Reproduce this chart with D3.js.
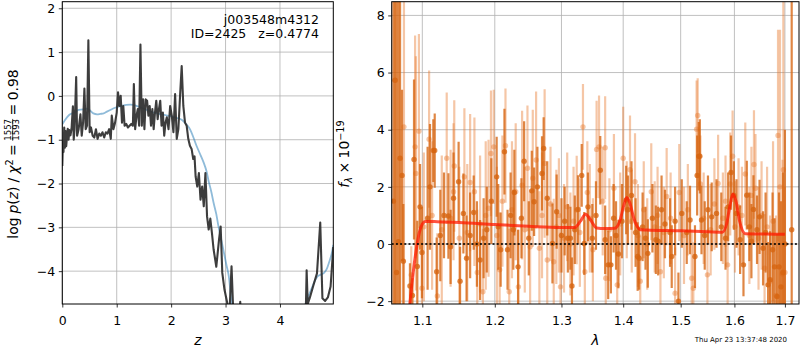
<!DOCTYPE html>
<html>
<head>
<meta charset="utf-8">
<script src="https://cdn.jsdelivr.net/npm/d3@7"></script>
<style>
body{margin:0;background:#fff;}
svg{display:block;font-family:"DejaVu Sans",sans-serif;}
</style>
</head>
<body>
<svg id="chart" width="800" height="350"></svg>
<script>
// ---- left panel: log p(z) and prior
const pzZ = [0.000,0.012,0.022,0.035,0.048,0.060,0.072,0.085,0.100,0.115,
    0.130,0.150,0.170,0.195,0.210,0.225,0.255,0.272,0.300,0.333,
    0.357,0.382,0.406,0.430,0.455,0.479,0.503,0.527,0.558,0.588,
    0.618,0.648,0.679,0.709,0.739,0.770,0.800,0.830,0.861,0.891,
    0.909,0.939,0.970,1.000,1.024,1.048,1.073,1.097,1.121,1.145,
    1.176,1.206,1.236,1.267,1.297,1.315,1.339,1.364,1.388,1.412,
    1.436,1.461,1.485,1.509,1.533,1.558,1.582,1.606,1.630,1.655,
    1.679,1.703,1.727,1.752,1.776,1.800,1.824,1.848,1.873,1.897,
    1.921,1.952,1.982,2.012,2.042,2.073,2.103,2.133,2.164,2.194,
    2.224,2.255,2.285,2.315,2.345,2.376,2.406,2.430,2.450,2.480,
    2.510,2.540,2.570,2.600,2.630,2.660,2.690,2.720,2.750,2.780,
    2.830,2.880,2.910,2.940,2.980,3.030,3.070,3.110,3.150,3.210,
    3.270,3.300,4.440,4.470,4.490,4.510,4.550,4.620,4.680,4.740,
    4.780,4.830,4.880,4.930,4.980];
const pzLog = [-1.60,-1.05,-1.28,-0.72,-1.18,-0.80,-1.15,-0.95,-0.75,-1.00,
    -0.78,-0.90,-0.75,-0.24,-1.00,-0.76,0.43,-0.91,-0.76,-0.42,
    -0.91,-0.61,0.17,-0.76,-0.68,1.27,-0.83,-0.72,-0.91,-0.95,
    -0.76,-0.98,-0.86,-0.91,-0.83,-0.95,-0.83,-0.86,-0.76,-0.98,
    -0.45,-0.76,-0.61,-0.38,0.08,-0.23,0.00,-0.61,-0.23,-0.68,
    -0.64,-0.72,-0.68,-0.64,-0.68,0.27,-0.76,-0.45,-0.30,-0.68,
    1.17,-0.68,-0.08,-0.76,-0.08,-0.11,-0.45,-0.23,-0.68,-0.30,
    -0.76,-0.38,-0.11,-0.53,-0.30,-0.11,-0.68,-0.38,-0.91,-0.61,
    -0.49,-0.76,-0.23,-0.45,-0.83,0.04,-0.98,-0.76,0.00,0.68,
    -0.23,-0.61,-0.68,-0.98,-1.14,-1.21,-1.44,-1.38,-1.84,-2.07,
    -1.76,-2.37,-2.07,-2.52,-1.76,-2.75,-3.05,-2.80,-3.13,-3.50,
    -3.90,-3.28,-2.98,-4.04,-4.42,-4.72,-5.00,-3.89,-5.20,-6.00,
    -4.70,-6.00,-6.00,-5.20,-3.98,-4.75,-4.60,-4.30,-4.05,-2.89,
    -4.62,-4.68,-4.60,-4.35,-3.45];
const priorZ = [0.00,0.05,0.13,0.22,0.30,0.38,0.45,0.50,0.57,0.64,
    0.70,0.76,0.82,0.90,0.97,1.10,1.25,1.35,1.43,1.55,
    1.65,1.74,1.85,1.99,2.10,2.20,2.28,2.35,2.41,2.47,
    2.54,2.60,2.65,2.69,2.74,2.78,2.83,2.87,2.92,2.97,
    3.02,3.06,3.11,3.15,4.44,4.47,4.53,4.60,4.65,4.69,
    4.75,4.81,4.86,4.90,4.95,4.98];
const priorLog = [-0.65,-0.55,-0.43,-0.38,-0.32,-0.31,-0.29,-0.32,-0.40,-0.42,
    -0.41,-0.40,-0.36,-0.31,-0.27,-0.22,-0.20,-0.22,-0.26,-0.32,
    -0.37,-0.40,-0.43,-0.46,-0.50,-0.55,-0.65,-0.77,-0.95,-1.15,
    -1.35,-1.53,-1.72,-1.95,-2.20,-2.44,-2.70,-2.98,-3.28,-3.58,
    -3.88,-4.12,-4.74,-5.20,-5.20,-4.75,-4.55,-4.34,-4.20,-4.12,
    -4.08,-4.04,-3.95,-3.81,-3.60,-3.40];
const zTicks = [0, 1, 2, 3, 4];
const pzTicks = [-4, -3, -2, -1, 0, 1, 2];

// ---- right panel: spectrum (two beams) and model
const darkWave = [1.0625,1.0646,1.0665,1.0688,1.0710,1.0735,1.0752,1.0838,1.0870,1.0891,
    1.0934,1.0970,1.0995,1.1070,1.1102,1.1146,1.1165,1.1191,1.1240,1.1290,
    1.1350,1.1380,1.1420,1.1490,1.1510,1.1556,1.1600,1.1650,1.1700,1.1745,
    1.1790,1.1840,1.1885,1.1950,1.2027,1.2050,1.2085,1.2140,1.2185,1.2230,
    1.2270,1.2285,1.2340,1.2390,1.2430,1.2500,1.2545,1.2580,1.2630,1.2700,
    1.2725,1.2780,1.2860,1.2925,1.3000,1.3050,1.3100,1.3140,1.3165,1.3210,
    1.3260,1.3320,1.3360,1.3420,1.3490,1.3550,1.3620,1.3700,1.3750,1.3795,
    1.3840,1.3880,1.3920,1.3980,1.4050,1.4080,1.4140,1.4210,1.4245,1.4270,
    1.4330,1.4380,1.4420,1.4500,1.4560,1.4600,1.4660,1.4720,1.4810,1.4840,
    1.4900,1.4960,1.5020,1.5110,1.5170,1.5260,1.5300,1.5330,1.5350,1.5380,
    1.5440,1.5500,1.5570,1.5660,1.5750,1.5830,1.5880,1.5935,1.5990,1.6040,
    1.6110,1.6175,1.6240,1.6290,1.6330,1.6370,1.6440,1.6490,1.6560,1.6610,
    1.6660,1.6700,1.6750,1.6790,1.6840,1.6880,1.6920,1.6960,1.7000,1.7139];
const darkFlux = [1.5,5.73,-1.0,0.08,3.0,2.4,-0.6,-1.47,-1.8,2.96,
    -0.79,1.3,-0.3,0.9,2.0,3.27,3.27,-0.97,0.3,1.0,
    0.98,-0.1,1.6,2.18,-1.3,1.07,-0.5,0.3,1.1,0.0,
    -0.56,0.2,0.5,1.5,2.35,0.6,-0.2,3.23,-0.2,1.0,
    0.5,1.8,-0.8,0.9,2.9,0.2,1.86,1.48,2.0,2.47,
    3.34,1.6,0.02,1.13,0.3,0.8,0.2,0.2,-1.47,0.5,
    1.21,2.4,0.02,1.3,0.2,1.0,2.58,0.15,-0.73,-0.73,
    0.9,0.3,-0.35,0.8,1.54,1.2,1.7,0.4,-0.44,-0.5,
    0.6,0.2,-0.33,0.9,0.15,0.1,1.2,0.7,0.4,-0.44,
    0.8,-2.0,1.07,0.4,0.84,-0.44,2.4,3.07,3.07,0.84,
    0.3,1.2,0.95,1.07,0.6,0.2,1.3,2.5,1.7,1.07,
    0.15,-0.73,1.71,0.6,0.1,1.21,0.5,0.95,-0.15,0.4,
    -1.43,-1.25,-0.2,-0.8,-1.84,-0.8,-1.5,-1.0,0.0,0.5];
const darkErr = [14,12,12,12,11,3.0,2.0,0.8,0.6,2.8,
    1.6,1.5,1.6,2.5,2.2,1.1,1.3,1.2,1.6,1.5,
    1.5,1.3,1.6,1.4,1.2,1.4,1.5,1.5,1.3,1.5,
    1.4,1.4,1.5,1.5,1.4,1.5,1.3,1.5,1.4,1.5,
    1.4,1.5,1.3,1.4,1.4,1.3,1.4,1.2,1.4,1.3,
    1.1,1.3,1.4,1.3,1.3,1.2,1.2,1.1,1.0,1.2,
    1.2,1.1,1.1,1.2,1.2,1.2,1.2,1.2,1.2,1.0,
    1.2,1.2,1.2,1.3,1.2,1.2,1.2,1.2,1.2,1.1,
    1.2,1.1,1.2,1.2,1.2,1.2,1.2,1.2,1.2,1.1,
    1.2,1.0,1.2,1.1,1.2,1.1,1.4,1.2,1.3,1.2,
    1.2,1.2,1.2,1.2,1.2,1.1,1.2,1.3,1.2,1.2,
    1.2,1.1,1.2,1.2,1.3,1.2,1.2,1.3,1.3,1.4,
    1.5,1.7,2.0,1.7,2.2,2.6,3.0,3.5,4.0,15];
const lightWave = [1.0760,1.0855,1.0905,1.0915,1.0955,1.0995,1.1020,1.1090,1.1130,1.1200,
    1.1260,1.1327,1.1380,1.1420,1.1430,1.1500,1.1570,1.1610,1.1650,1.1710,
    1.1750,1.1790,1.1830,1.1870,1.1910,1.1945,1.1985,1.2030,1.2070,1.2110,
    1.2155,1.2210,1.2250,1.2305,1.2345,1.2400,1.2440,1.2480,1.2520,1.2560,
    1.2610,1.2660,1.2700,1.2740,1.2780,1.2830,1.2880,1.2920,1.2960,1.2985,
    1.3040,1.3090,1.3140,1.3190,1.3240,1.3290,1.3340,1.3370,1.3410,1.3450,
    1.3500,1.3560,1.3600,1.3660,1.3700,1.3710,1.3770,1.3845,1.3900,1.3950,
    1.4000,1.4060,1.4115,1.4145,1.4200,1.4250,1.4290,1.4350,1.4410,1.4480,
    1.4540,1.4590,1.4640,1.4700,1.4750,1.4820,1.4900,1.4975,1.5060,1.5130,
    1.5200,1.5230,1.5290,1.5310,1.5360,1.5420,1.5490,1.5550,1.5620,1.5690,
    1.5780,1.5830,1.5870,1.5920,1.5965,1.6010,1.6080,1.6145,1.6210,1.6290,
    1.6330,1.6380,1.6410,1.6470,1.6530,1.6590,1.6640,1.6700,1.6760,1.6820,
    1.6860,1.6900,1.6950,1.6968,1.7000];
const lightFlux = [4.1,-1.08,3.4,2.47,3.95,-1.55,0.6,3.67,1.0,-1.82,
    0.5,3.0,0.9,1.83,2.73,0.2,2.35,0.4,2.15,1.83,
    -1.0,0.7,-1.67,1.0,1.25,3.17,3.4,0.3,-0.9,1.5,
    3.44,-1.67,1.2,1.83,-1.5,2.06,0.5,2.65,-0.1,2.3,
    2.94,-0.15,1.0,2.82,-0.56,1.4,-0.62,0.6,1.0,-1.5,
    0.2,1.3,0.0,0.8,1.19,0.4,4.1,-0.97,1.8,0.9,
    -0.2,3.31,3.4,1.5,3.37,-1.2,0.5,1.95,-1.43,0.7,
    3.0,1.2,2.6,0.8,2.18,0.3,-1.3,1.2,0.0,1.83,
    0.6,1.0,-0.97,0.4,1.66,0.9,-1.72,1.8,0.3,1.2,
    -1.2,-1.55,4.02,4.5,2.1,0.9,-1.08,0.5,1.4,2.12,
    0.9,1.5,-0.73,2.1,3.07,0.6,1.3,1.0,2.45,0.3,
    1.7,2.78,1.95,0.2,1.0,-0.85,0.6,-1.3,0.8,-1.8,
    3.8,2.0,-1.05,2.6,-1.0];
const lightErr = [10,1.0,3.9,4.1,3.4,1.6,2.6,2.4,2.6,2.2,
    2.6,2.3,2.4,2.4,2.3,2.5,2.4,2.4,2.4,2.6,
    2.2,2.4,2.2,2.6,2.4,2.2,2.0,2.4,2.0,2.3,
    2.0,2.2,2.4,2.4,2.0,2.6,2.2,2.2,2.0,2.4,
    2.4,2.0,2.2,2.6,2.2,2.0,2.2,2.0,2.0,1.9,
    1.9,1.9,1.8,1.9,1.9,1.9,1.5,1.8,1.8,1.9,
    1.8,1.7,1.8,1.9,1.8,1.7,1.8,1.9,1.7,1.8,
    1.8,1.7,1.9,1.8,1.7,1.8,1.6,1.7,1.6,1.7,
    1.6,1.7,1.6,1.6,1.7,1.6,1.6,1.7,1.7,1.6,
    1.7,1.6,1.7,1.3,1.7,1.6,1.6,1.6,1.6,1.7,
    1.6,1.6,1.6,1.8,1.6,1.6,1.7,1.7,1.8,1.7,
    1.7,1.9,1.9,1.8,1.9,1.9,2.1,2.3,2.8,2.8,
    3.7,5.5,4.0,8,3.0];
const modelWave = [1.083,1.088,1.092,1.096,1.100,1.104,1.120,1.150,1.200,1.250,
    1.300,1.321,1.330,1.338,1.346,1.356,1.370,1.386,1.395,1.401,
    1.406,1.411,1.418,1.429,1.440,1.500,1.550,1.577,1.585,1.591,
    1.597,1.603,1.610,1.621,1.660,1.700];
const modelFlux = [-2.3,-1.0,-0.2,0.4,0.7,0.79,0.78,0.75,0.68,0.62,
    0.58,0.58,0.8,1.04,0.85,0.56,0.54,0.55,0.85,1.35,
    1.63,1.45,0.9,0.50,0.49,0.46,0.43,0.41,0.7,1.3,
    1.75,1.5,0.8,0.36,0.35,0.34];
const waveTicks = [1.1, 1.2, 1.3, 1.4, 1.5, 1.6, 1.7];
const fluxTicks = [-2, 0, 2, 4, 6, 8];

const svg = d3.select("#chart");
const tickFont = 12.5, labelFont = 13.9;

// axes boxes in px
const boxL = {l: 62.3, r: 333.3, t: 1.7, b: 304};
const boxR = {l: 391.7, r: 799, t: 1.7, b: 304};

const xZ = d3.scaleLinear().domain([0, 4.98]).range([boxL.l, boxL.r]);
const yPz = d3.scaleLinear().domain([-4.75, 2.15]).range([boxL.b, boxL.t]);
const xW = d3.scaleLog().domain([1.0603, 1.729]).range([boxR.l, boxR.r]);
const yF = d3.scaleLinear().domain([-2.1, 8.48]).range([boxR.b, boxR.t]);

function setupAxes(id, box, x, y, xTicks, yTicks, xFmt, yFmt){
    svg.append("clipPath").attr("id", id).append("rect")
        .attr("x", box.l).attr("y", box.t)
        .attr("width", box.r - box.l).attr("height", box.b - box.t);
    //grid lines
    const grid = svg.append("g").attr("stroke", "#b0b0b0").attr("stroke-width", 0.8);
    grid.selectAll(null).data(xTicks).join("line")
        .attr("x1", d => x(d)).attr("x2", d => x(d))
        .attr("y1", box.t).attr("y2", box.b);
    grid.selectAll(null).data(yTicks).join("line")
        .attr("y1", d => y(d)).attr("y2", d => y(d))
        .attr("x1", box.l).attr("x2", box.r);
    //ticks
    const ax = svg.append("g").attr("transform", `translate(0,${box.b})`)
        .call(d3.axisBottom(x).tickValues(xTicks).tickFormat(xFmt)
            .tickSize(3.5).tickPadding(3.5).tickSizeOuter(0));
    const ay = svg.append("g").attr("transform", `translate(${box.l},0)`)
        .call(d3.axisLeft(y).tickValues(yTicks).tickFormat(yFmt)
            .tickSize(3.5).tickPadding(3.5).tickSizeOuter(0));
    [ax, ay].forEach(a => {
        a.select(".domain").remove();
        a.attr("font-size", null).attr("font-family", null);
        a.selectAll("line").attr("stroke", "#000").attr("stroke-width", 0.8);
        a.selectAll("text").attr("fill", "#000").attr("font-size", tickFont);
    });
    ax.selectAll("text").attr("dy", null).attr("y", 21);
    ay.selectAll("text").attr("dy", "0.34em");
    return svg.append("g").attr("clip-path", `url(#${id})`);
}

function frame(box){
    svg.append("rect").attr("x", box.l).attr("y", box.t)
        .attr("width", box.r - box.l).attr("height", box.b - box.t)
        .attr("fill", "none").attr("stroke", "#000").attr("stroke-width", 1);
}

// text pieces laid out one after another, returns total width
function pieces(g, items){
    let x = 0;
    items.forEach(it => {
        if(it.gap){ x += it.gap; return; }
        if(it.frac){
            const fs = it.size;
            const a = g.append("text").attr("font-size", fs).attr("y", -7).text(it.frac[0]);
            const b = g.append("text").attr("font-size", fs).attr("y", 0.5).text(it.frac[1]);
            const w = Math.max(a.node().getComputedTextLength(), b.node().getComputedTextLength());
            a.attr("x", x + (w - a.node().getComputedTextLength()) / 2);
            b.attr("x", x + (w - b.node().getComputedTextLength()) / 2);
            g.append("line").attr("x1", x).attr("x2", x + w).attr("y1", -5.6).attr("y2", -5.6)
                .attr("stroke", "#000").attr("stroke-width", 0.7);
            x += w;
            return;
        }
        const t = g.append("text").attr("x", x).attr("y", it.dy || 0)
            .attr("font-size", it.size || labelFont)
            .attr("font-style", it.italic ? "italic" : null).text(it.t);
        x += t.node().getComputedTextLength();
    });
    return x;
}

// ================= left panel
const plotL = setupAxes("clipL", boxL, xZ, yPz, zTicks, pzTicks, d3.format("d"), d3.format("d"));

plotL.append("path").datum(d3.zip(priorZ, priorLog))
    .attr("d", d3.line().x(d => xZ(d[0])).y(d => yPz(d[1])).curve(d3.curveMonotoneX))
    .attr("fill", "none").attr("stroke", "#1f77b4").attr("stroke-opacity", 0.5)
    .attr("stroke-width", 1.8);
plotL.append("path").datum(d3.zip(pzZ, pzLog))
    .attr("d", d3.line().x(d => xZ(d[0])).y(d => yPz(d[1])))
    .attr("fill", "none").attr("stroke", "#333").attr("stroke-opacity", 0.95)
    .attr("stroke-width", 2.1).attr("stroke-linejoin", "round");

frame(boxL);

svg.append("text").attr("x", 319).attr("y", 24).attr("text-anchor", "end")
    .attr("font-size", tickFont).text("j003548m4312");
svg.append("text").attr("x", 319).attr("y", 38).attr("text-anchor", "end")
    .attr("font-size", tickFont).style("white-space", "pre").text("ID=2425   z=0.4774");

svg.append("text").attr("x", (boxL.l + boxL.r) / 2).attr("y", 345).attr("text-anchor", "middle")
    .attr("font-size", labelFont).attr("font-style", "italic").text("z");

//y label with the chi2 fraction
const ylabL = svg.append("g").attr("transform", "translate(18.3,154) rotate(-90)");
const ylabLi = ylabL.append("g");
const wL = pieces(ylabLi, [
    {t: "log"}, {gap: 4}, {t: "p", italic: true}, {t: "("}, {t: "z", italic: true}, {t: ")"},
    {gap: 4}, {t: "/"}, {gap: 4}, {t: "χ", italic: true}, {t: "2", size: 9.7, dy: -5.5},
    {gap: 3.5}, {t: "="}, {gap: 3.5}, {frac: ["1557", "1593"], size: 8.6},
    {gap: 3.5}, {t: "="}, {gap: 3.5}, {t: "0.98"}
]);
ylabLi.attr("transform", `translate(${-wL / 2},0)`);

// ================= right panel
const plotR = setupAxes("clipR", boxR, xW, yF, waveTicks, fluxTicks, d3.format(".1f"), d3.format("d"));

function errorbars(g, wave, flux, err, color, alpha){
    const rows = d3.zip(wave, flux, err);
    const s = g.append("g");
    s.selectAll(null).data(rows).join("line")
        .attr("x1", d => xW(d[0])).attr("x2", d => xW(d[0]))
        .attr("y1", d => yF(d[1] - d[2])).attr("y2", d => yF(d[1] + d[2]))
        .attr("stroke", color).attr("stroke-opacity", alpha).attr("stroke-width", 2.2);
    s.selectAll(null).data(rows).join("circle")
        .attr("cx", d => xW(d[0])).attr("cy", d => yF(d[1])).attr("r", 2.7)
        .attr("fill", color).attr("fill-opacity", alpha);
}

errorbars(plotR, lightWave, lightFlux, lightErr, "#e8782a", 0.42);
errorbars(plotR, darkWave, darkFlux, darkErr, "#d6640f", 0.78);

plotR.append("path").datum(d3.zip(modelWave, modelFlux))
    .attr("d", d3.line().x(d => xW(d[0])).y(d => yF(d[1])).curve(d3.curveMonotoneX))
    .attr("fill", "none").attr("stroke", "#ff1a00").attr("stroke-opacity", 0.75)
    .attr("stroke-width", 3).attr("stroke-linejoin", "round");

plotR.append("line").attr("x1", boxR.l).attr("x2", boxR.r)
    .attr("y1", yF(0)).attr("y2", yF(0))
    .attr("stroke", "#000").attr("stroke-opacity", 0.8).attr("stroke-width", 2)
    .attr("stroke-dasharray", "2,2.2");

frame(boxR);

svg.append("text").attr("x", (boxR.l + boxR.r) / 2).attr("y", 345).attr("text-anchor", "middle")
    .attr("font-size", labelFont).attr("font-style", "italic").text("λ");

const ylabR = svg.append("g").attr("transform", "translate(349,154) rotate(-90)");
const ylabRi = ylabR.append("g");
const wR = pieces(ylabRi, [
    {t: "f", italic: true}, {t: "λ", italic: true, size: 9.7, dy: 3}, {gap: 3.5}, {t: "×"},
    {gap: 3.5}, {t: "10"}, {t: "−19", size: 9.7, dy: -5.5}
]);
ylabRi.attr("transform", `translate(${-wR / 2},0)`);

svg.append("text").attr("x", 787).attr("y", 342).attr("text-anchor", "end")
    .attr("font-size", 7).text("Thu Apr 23 13:37:48 2020");
</script>
</body>
</html>
